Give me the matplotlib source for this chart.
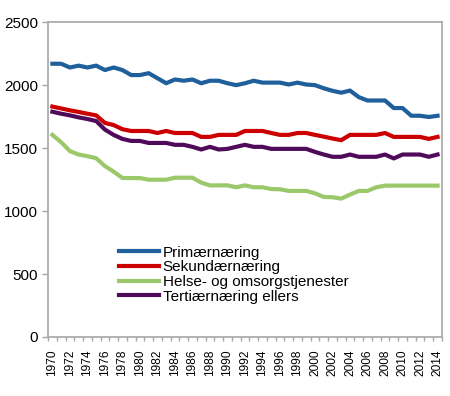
import numpy as np
import matplotlib
matplotlib.use("Agg")
import matplotlib.pyplot as plt

plt.rcParams['font.family'] = ['Liberation Sans', 'DejaVu Sans']

years = list(range(1970, 2015))

primaer = [2170, 2170, 2140, 2155, 2140, 2155, 2120, 2140, 2120, 2080, 2080, 2095,
           2055, 2015, 2045, 2035, 2045, 2015, 2035, 2035, 2015, 2000, 2015, 2035,
           2020, 2020, 2020, 2005, 2020, 2005, 2000, 1975, 1955, 1940, 1957, 1905,
           1878, 1878, 1878, 1818, 1818, 1757, 1757, 1747, 1757]
sekundaer = [1830, 1815, 1800, 1787, 1773, 1760, 1700, 1683, 1650, 1636, 1636, 1636,
             1620, 1636, 1620, 1620, 1620, 1589, 1589, 1605, 1605, 1605, 1636, 1636,
             1636, 1620, 1605, 1605, 1620, 1620, 1605, 1591, 1576, 1563, 1605, 1605,
             1605, 1605, 1620, 1589, 1589, 1589, 1589, 1573, 1589]
helse = [1605, 1547, 1476, 1449, 1436, 1420, 1357, 1313, 1263, 1262, 1262, 1249,
         1249, 1249, 1265, 1265, 1265, 1226, 1204, 1204, 1204, 1189, 1204, 1189,
         1189, 1175, 1173, 1160, 1160, 1160, 1141, 1112, 1110, 1099, 1131, 1160,
         1160, 1189, 1202, 1202, 1202, 1202, 1202, 1202, 1202]
tertiaer = [1789, 1773, 1760, 1744, 1731, 1715, 1647, 1605, 1573, 1557, 1557, 1541,
            1541, 1541, 1526, 1526, 1510, 1489, 1510, 1489, 1494, 1510, 1526, 1510,
            1510, 1494, 1494, 1494, 1494, 1494, 1470, 1449, 1431, 1431, 1449, 1431,
            1431, 1431, 1449, 1418, 1449, 1449, 1449, 1431, 1449]

labels = ['Primærnæring', 'Sekundærnæring', 'Helse- og omsorgstjenester',
          'Tertiærnæring ellers']
colors = ['#1f5f9b', '#cc0000', '#9bc86b', '#4f0a5a']

fig = plt.figure(figsize=(4.5, 3.96), dpi=100)
ax = fig.add_axes([0.1067, 0.149, 0.8753, 0.795])

x = np.arange(len(years))
for ser, lab, c in zip([primaer, sekundaer, helse, tertiaer], labels, colors):
    ax.plot(x, ser, color=c, lw=3.0, label=lab, solid_joinstyle='round')

ax.set_xlim(-0.5, len(years) - 0.5)
ax.set_ylim(0, 2500)
ax.set_yticks(np.arange(0, 2501, 500))
ax.tick_params(axis='y', labelsize=11, length=4, color='#a6a6a6', width=1, pad=3)

even = [i for i, y in enumerate(years) if y % 2 == 0]
ax.set_xticks(even)
ax.set_xticklabels([str(years[i]) for i in even], rotation=90, fontsize=8.6)
ax.tick_params(axis='x', length=0, pad=9)
ax.set_xticks(np.arange(-0.5, len(years), 1), minor=True)
ax.tick_params(axis='x', which='minor', length=3, color='#a6a6a6', width=1)

for s in ax.spines.values():
    s.set_color('#a6a6a6')
    s.set_linewidth(1.2)

ax.legend(loc='upper left', bbox_to_anchor=(0.165, 0.31), frameon=False,
          fontsize=11, handlelength=2.6, handletextpad=0.25, labelspacing=0.05,
          borderaxespad=0)

fig.savefig('out.png', dpi=100)
